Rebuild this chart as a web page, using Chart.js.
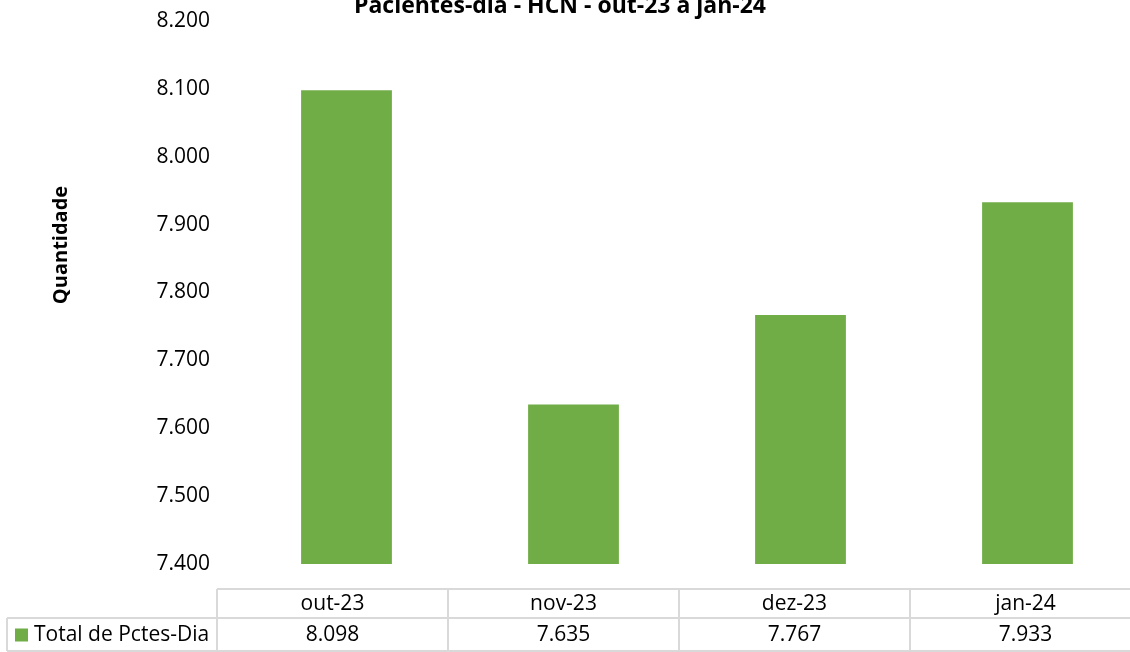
<!DOCTYPE html>
<html>
<head>
<meta charset="utf-8">
<script src="https://cdn.jsdelivr.net/npm/chart.js@4"></script>
<style>
    html, body { margin: 0; padding: 0; background: #fff; overflow: hidden; }
    #wrap { width: 1141px; height: 652px; position: relative; }
</style>
</head>
<body>
<div id="wrap"><canvas id="chart"></canvas></div>
<script>
const chartTitle = 'Pacientes-dia - HCN - out-23 a jan-24';
const axisTitle = 'Quantidade';
const seriesName = 'Total de Pctes-Dia';
const months = ['out-23', 'nov-23', 'dez-23', 'jan-24'];
const pacientesDia = [8098, 7635, 7767, 7933];
const yMin = 7400;
const yMax = 8200;
const yStep = 100;

const green = '#70ad47';
const gridGrey = '#d9d9d9';
const font = '"Open Sans", "Liberation Sans", sans-serif';

// 8200 -> "8.200"
function fmt(v) {
    return String(Math.round(v)).replace(/\B(?=(\d{3})+(?!\d))/g, '.');
}

// title, rotated axis title and the data table under the bars
const extras = {
    id: 'extras',
    afterDraw(chart) {
        const ctx = chart.ctx;
        const area = chart.chartArea;

        ctx.save();
        ctx.fillStyle = '#000';
        ctx.font = 'bold 23px ' + font;
        ctx.textAlign = 'center';
        ctx.textBaseline = 'alphabetic';
        ctx.fillText(chartTitle, 560, 13);

        ctx.save();
        ctx.translate(61, 245);
        ctx.rotate(-Math.PI / 2);
        ctx.font = 'bold 20px ' + font;
        ctx.textBaseline = 'middle';
        ctx.fillText(axisTitle, 0, 0);
        ctx.restore();

        // table
        const tableLeft = area.left - 16;
        const top = area.bottom + 25;
        const mid = top + 29;
        const bottom = chart.height - 1;
        const colW = (area.right - tableLeft) / months.length;
        const legendLeft = 7;

        ctx.strokeStyle = gridGrey;
        ctx.lineWidth = 2;
        ctx.beginPath();
        ctx.moveTo(tableLeft, top);
        ctx.lineTo(area.right, top);
        ctx.moveTo(legendLeft, mid);
        ctx.lineTo(area.right, mid);
        ctx.moveTo(legendLeft, bottom);
        ctx.lineTo(area.right, bottom);
        ctx.moveTo(legendLeft, mid);
        ctx.lineTo(legendLeft, bottom);
        for (let i = 0; i <= months.length; i++) {
            const cx = tableLeft + i * colW;
            ctx.moveTo(cx, top);
            ctx.lineTo(cx, bottom);
        }
        ctx.stroke();

        ctx.fillStyle = '#000';
        ctx.font = '21px ' + font;
        ctx.textAlign = 'center';
        ctx.textBaseline = 'middle';
        months.forEach((m, i) => {
            const cx = tableLeft + (i + 0.5) * colW;
            ctx.fillText(m, cx, (top + mid) / 2 + 1);
            ctx.fillText(fmt(pacientesDia[i]), cx, (mid + bottom) / 2 + 1);
        });

        ctx.fillStyle = green;
        ctx.fillRect(15, (mid + bottom) / 2 - 6, 13, 13);
        ctx.fillStyle = '#000';
        ctx.textAlign = 'left';
        ctx.fillText(seriesName, 34, (mid + bottom) / 2 + 1);
        ctx.restore();
    }
};

new Chart(document.getElementById('chart'), {
    type: 'bar',
    data: {
        labels: months,
        datasets: [{
            label: seriesName,
            data: pacientesDia,
            backgroundColor: green,
            categoryPercentage: 1,
            barPercentage: 0.4
        }]
    },
    options: {
        responsive: true,
        maintainAspectRatio: false,
        animation: false,
        layout: { padding: { top: 21, right: 0, left: 0, bottom: 0 } },
        plugins: {
            legend: { display: false },
            title: { display: false },
            tooltip: { enabled: false }
        },
        scales: {
            x: {
                grid: { display: false },
                border: { display: false },
                ticks: { display: false },
                afterFit: (s) => { s.height = 88; }
            },
            y: {
                min: yMin,
                max: yMax,
                // tick marks are hidden, tickLength only pushes labels off the bars
                grid: { display: false, drawTicks: true, tickLength: 23 },
                border: { display: false },
                ticks: {
                    stepSize: yStep,
                    padding: 0,
                    color: '#000',
                    font: { family: font, size: 21 },
                    callback: (v) => fmt(v)
                },
                afterFit: (s) => { s.width = 233; }
            }
        }
    },
    plugins: [extras]
});
</script>
</body>
</html>
